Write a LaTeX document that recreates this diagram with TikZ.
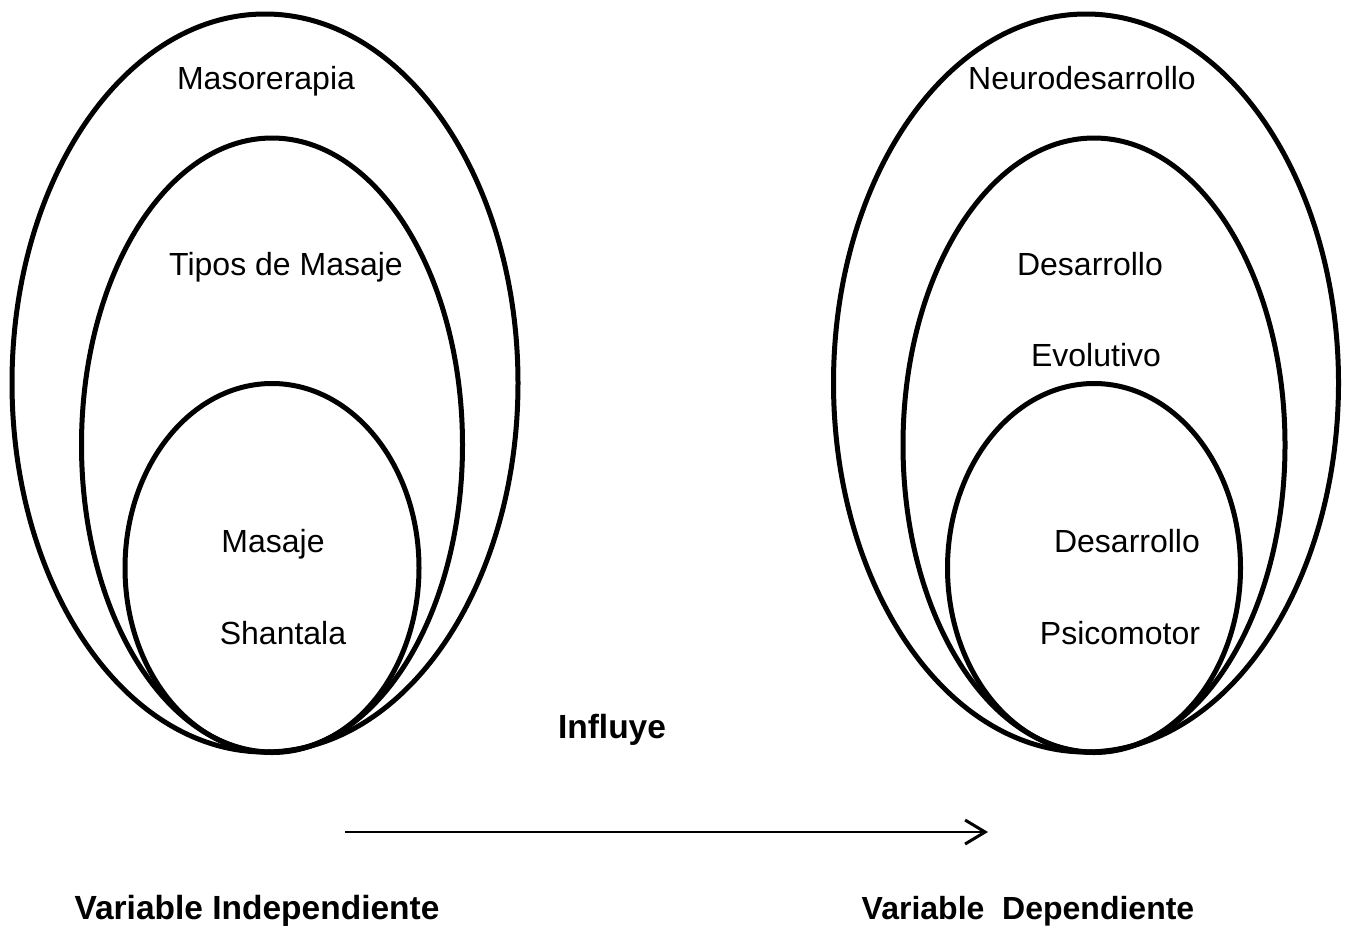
\documentclass[tikz,border=0pt]{standalone}
\usepackage{fontspec}
\setmainfont{Liberation Sans}
\usepackage{tikz}
\usetikzlibrary{shapes.geometric}
\usetikzlibrary{arrows.meta}
\tikzstyle{ring}=[draw,ellipse,line width=5pt,inner sep=0,outer sep=0]
\tikzstyle{caption}=[anchor=base,inner sep=0,font=\fontsize{32}{38}\selectfont]
\tikzstyle{heading}=[caption,font=\fontsize{33.5}{40}\selectfont\bfseries]

\begin{document}
\begin{tikzpicture}[x=1pt, y=-1pt]
\useasboundingbox (0,0) rectangle (1349,927);

% elipses: nombre/centro x/centro y/ancho/alto
\foreach \n/\x/\y/\w/\h in {outer-L/265/383/506/738, mid-L/272/445/381/614, inner-L/272/568/294/369,
                            outer-R/1086/383/505/738, mid-R/1094/445/382/614, inner-R/1094/568/293/369}
  \node [ring, minimum width=\w pt, minimum height=\h pt] (\n) at (\x,\y) {};

% textos de la variable independiente
\node [caption] (masoterapia) at (266,89) {Masorerapia};
\node [caption] (tipos) at (286,275) {Tipos de Masaje};
\node [caption] (masaje) at (273,552) {Masaje};
\node [caption] (shantala) at (283,644) {Shantala};

% textos de la variable dependiente
\node [caption] (neuro) at (1082,89) {Neurodesarrollo};
\node [caption] (desarrollo-1) at (1090,275) {Desarrollo};
\node [caption] (evolutivo) at (1096,366) {Evolutivo};
\node [caption] (desarrollo-2) at (1127,552) {Desarrollo};
\node [caption] (psicomotor) at (1120,644) {Psicomotor};

\node [heading] (influye) at (612,738) {Influye};

\coordinate (arrow-start) at (345,832);
\coordinate (arrow-end) at (988,832);
\draw [-{Straight Barb[length=20pt,width=24pt,line width=3pt]}, line width=2.4pt] (arrow-start) -- (arrow-end);

\node [heading] (indep) at (257,919) {Variable Independiente};
\node [heading, font=\fontsize{32}{38}\selectfont\bfseries] (dep) at (1028,919) {Variable\ \ Dependiente};

\end{tikzpicture}
\end{document}
